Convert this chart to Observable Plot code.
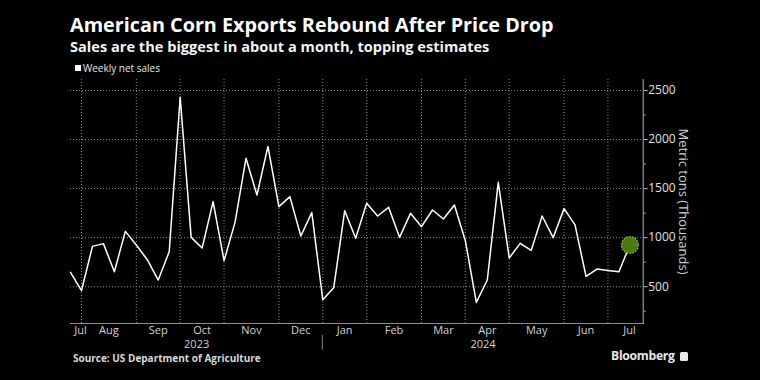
<!DOCTYPE html>
<html><head><meta charset="utf-8">
<script src="https://cdn.jsdelivr.net/npm/d3@7"></script>
<script src="https://cdn.jsdelivr.net/npm/@observablehq/plot@0.6"></script>
<style>
html,body{margin:0;padding:0;background:#000;}
#root{position:relative;width:760px;height:380px;background:#000;overflow:hidden;font-family:"Open Sans",sans-serif;}
.title{position:absolute;left:70px;top:15px;font-size:19.8px;line-height:20px;font-weight:700;color:#fff;white-space:nowrap;}
.subtitle{position:absolute;left:70px;top:39px;font-size:14.6px;line-height:15px;font-weight:700;color:#f2f2f2;white-space:nowrap;}
.legend{position:absolute;left:75px;top:62px;font-size:10px;line-height:12px;color:#e6e6e6;white-space:nowrap;display:flex;align-items:center;}
.legend .sw{display:inline-block;width:6px;height:6px;background:#fff;margin-right:2px;}
#chart{position:absolute;left:0;top:75px;}
.source{position:absolute;left:73px;top:352.5px;font-size:10px;line-height:10px;font-weight:700;color:#d9d9d9;white-space:nowrap;}
.brand{position:absolute;left:611px;top:348px;font-size:12.2px;line-height:16px;font-weight:700;color:#e8e8e8;white-space:nowrap;letter-spacing:-0.3px;}
.brand .ic{display:inline-block;width:8px;height:9px;background:#e8e8e8;border-radius:1.5px;margin-left:5px;vertical-align:-1px;}
</style></head>
<body>
<div id="root">
  <div class="title">American Corn Exports Rebound After Price Drop</div>
  <div class="subtitle">Sales are the biggest in about a month, topping estimates</div>
  <div class="legend"><span class="sw"></span>Weekly net sales</div>
  <div id="chart"></div>
  <div class="source">Source: US Department of Agriculture</div>
  <div class="brand">Bloomberg<span class="ic"></span></div>
</div>
<script>
// Weekly net sales, metric tons (thousands), weeks ending Thursday
const firstWeek = "2023-07-27";
const values = [646, 459, 911, 939, 653, 1064, 925, 775, 568, 857,
  2431, 1003, 894, 1367, 765, 1156, 1809, 1435, 1930, 1316,
  1418, 1017, 1255, 367, 490, 1275, 993, 1350, 1221, 1309,
  1003, 1248, 1112, 1282, 1190, 1333, 969, 340, 568, 1564,
  793, 942, 870, 1221, 1000, 1296, 1130, 605, 680, 666,
  653, 925];
const monthLabels = ["Jul","Aug","Sep","Oct","Nov","Dec","Jan","Feb","Mar","Apr","May","Jun","Jul"];
const yearLabels = ["2023","2024"];
const yTicks = [500, 1000, 1500, 2000, 2500];
const yMinorTicks = [250, 750, 1250, 1750, 2250];
const yDomain = [125, 2612];
const xDomain = ["2023-07-27", "2024-07-26T12:00Z"];
const axisTitle = "Metric tons (Thousands)";

const data = values.map((v, i) => ({date: d3.utcDay.offset(new Date(firstWeek), 7 * i), value: v}));
const xd = xDomain.map(d => new Date(d));
// first weekly observation in each month (except the opening partial month)
const monthTicks = Array.from(d3.group(data, d => +d3.utcMonth.floor(d.date)).values(), g => g[0].date).slice(1);
const bounds = [xd[0], ...monthTicks, xd[1]];
const monthPos = monthLabels.map((m, i) => ({label: m, date: new Date((+bounds[i] + +bounds[i + 1]) / 2)}));
const janTick = monthTicks.find(d => d.getUTCMonth() === 0);
const yearPos = [
  {label: yearLabels[0], date: new Date((+xd[0] + +janTick) / 2)},
  {label: yearLabels[1], date: new Date((+janTick + +xd[1]) / 2)}
];
const last = data[data.length - 1];
const font = "Open Sans, sans-serif";

const plot = Plot.plot({
  width: 760,
  height: 275,
  marginLeft: 70,
  marginRight: 117.3,
  marginTop: 4,
  marginBottom: 27,
  style: {background: "transparent", color: "#d8d8d8", fontFamily: font, fontSize: "11px", overflow: "visible"},
  x: {type: "utc", domain: xd, axis: null},
  y: {domain: yDomain, axis: null},
  marks: [
    Plot.gridY(yTicks, {stroke: "#8a8a8a", strokeOpacity: 1, strokeDasharray: "1,2"}),
    Plot.gridX(monthTicks, {stroke: "#8a8a8a", strokeOpacity: 1, strokeDasharray: "1,2"}),
    Plot.frame({anchor: "bottom", stroke: "#8c8c8c"}),
    Plot.frame({anchor: "right", stroke: "#b5b5b5"}),
    Plot.axisY(yMinorTicks, {anchor: "right", tickSize: 2, text: null, label: null, stroke: "#b5b5b5"}),
    Plot.axisY(yTicks, {anchor: "right", tickSize: 4, tickPadding: 1, label: null, tickFormat: d => String(d), stroke: "#b5b5b5", fill: "#e0e0e0", fontSize: 12}),
    Plot.text([axisTitle], {frameAnchor: "right", textAnchor: "middle", lineAnchor: "middle", rotate: 90, dx: 40, fill: "#d0d0d0", fontSize: 13}),
    Plot.line(data, {x: "date", y: "value", stroke: "#ffffff", strokeWidth: 1.5}),
    Plot.dot([last], {x: "date", y: "value", r: 8.5, fill: "#4a7a12", stroke: "#9ccc3c", strokeWidth: 1.2, strokeDasharray: "1.5,1.5"}),
    Plot.text(monthPos.slice(0, 1), {x: "date", text: "label", frameAnchor: "bottom", lineAnchor: "top", dy: 2.5, dx: 4.5, fill: "#d0d0d0"}),
    Plot.text(monthPos.slice(1, -1), {x: "date", text: "label", frameAnchor: "bottom", lineAnchor: "top", dy: 2.5, fill: "#d0d0d0"}),
    Plot.text(monthPos.slice(-1), {x: "date", text: "label", frameAnchor: "bottom", lineAnchor: "top", dy: 2.5, dx: 4, fill: "#d0d0d0"}),
    Plot.text(yearPos, {x: "date", text: "label", frameAnchor: "bottom", lineAnchor: "top", dy: 16.3, fill: "#d0d0d0"})
  ]
});

// year separator below the axis, placed with the plot's own x scale
const xs = plot.scale("x");
d3.select(plot).append("line")
  .attr("x1", xs.apply(janTick)).attr("x2", xs.apply(janTick))
  .attr("y1", 260).attr("y2", 274.5)
  .attr("stroke", "#8c8c8c").attr("stroke-width", 1);

document.getElementById("chart").append(plot);
</script>
</body></html>
